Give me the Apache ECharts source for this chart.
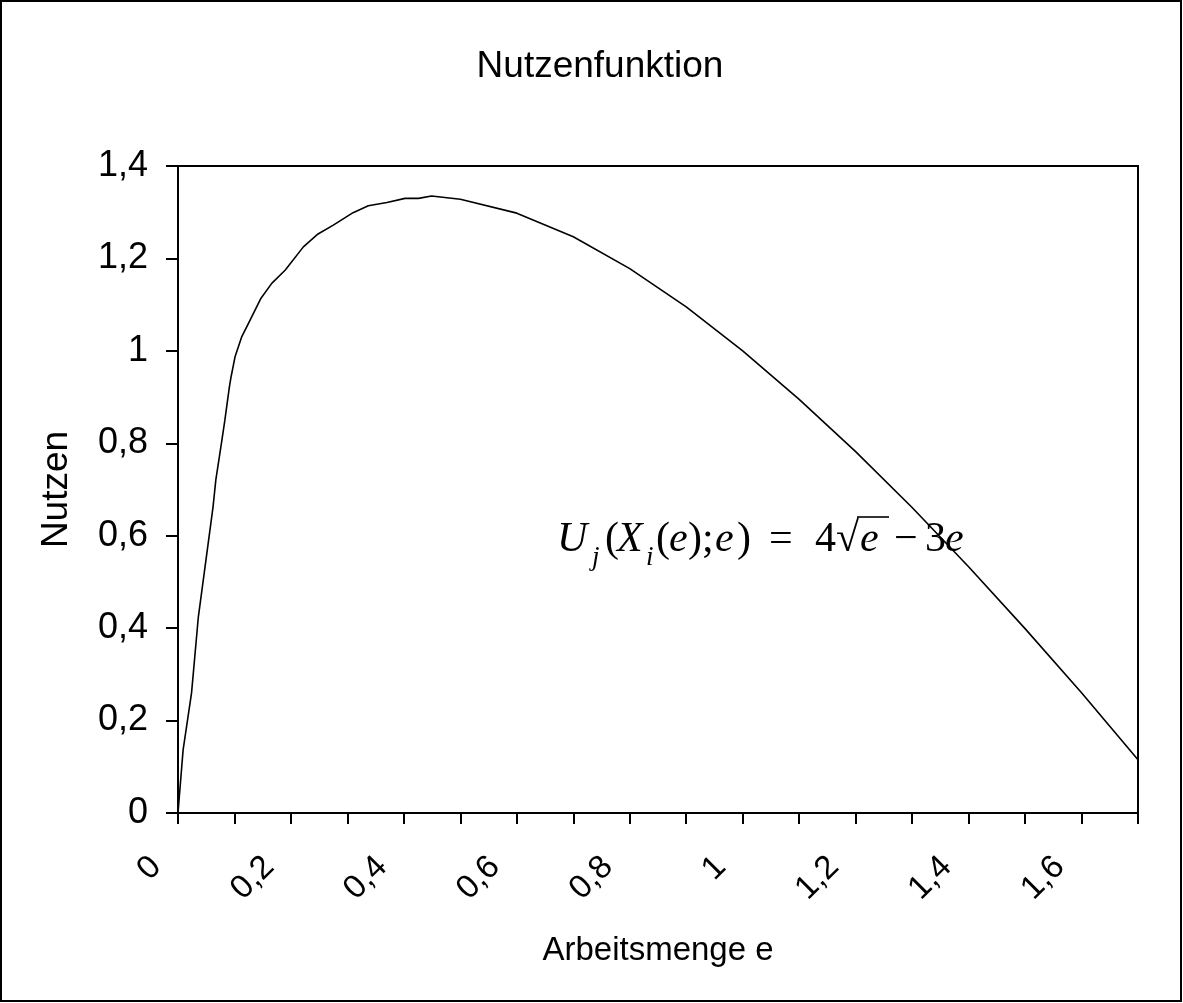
<!DOCTYPE html>
<html>
<head>
<meta charset="utf-8">
<script src="https://cdn.jsdelivr.net/npm/echarts@6/dist/echarts.min.js"></script>
<style>
html,body{margin:0;padding:0;background:#fff;}
#c{width:1183px;height:1003px;}
</style>
</head>
<body>
<div id="c"></div>
<script>
// Data
const eValues = [0, 0.009, 0.024, 0.036, 0.062, 0.067, 0.077, 0.083, 0.091, 0.094, 0.101, 0.113, 0.125, 0.147, 0.166, 0.19, 0.222, 0.248, 0.275, 0.31, 0.337, 0.37, 0.402, 0.426, 0.449, 0.5, 0.6, 0.7, 0.8, 0.9, 1.0, 1.1, 1.2, 1.3, 1.4, 1.5, 1.6, 1.7];
const uValues = [0, 0.136, 0.26, 0.424, 0.662, 0.721, 0.801, 0.85, 0.922, 0.944, 0.987, 1.031, 1.06, 1.114, 1.146, 1.175, 1.225, 1.253, 1.272, 1.299, 1.314, 1.321, 1.33, 1.33, 1.335, 1.328, 1.298, 1.247, 1.178, 1.095, 1.0, 0.895, 0.782, 0.661, 0.533, 0.399, 0.26, 0.115];
const xTickLabels = ['0', '0,2', '0,4', '0,6', '0,8', '1', '1,2', '1,4', '1,6'];
const yTickLabels = ['0', '0,2', '0,4', '0,6', '0,8', '1', '1,2', '1,4'];
const titleText = 'Nutzenfunktion';
const xName = 'Arbeitsmenge e';
const yName = 'Nutzen';

const pts = eValues.map((e, i) => [e, uValues[i]]);
const FONT = '"Liberation Sans", Arial, sans-serif';
const SERIF = '"Liberation Serif", "Times New Roman", serif';

// formula annotation pieces: [text, left x, kind]  (i = italic, n = upright, s = subscript italic)
const formula = [
  ['U', 557, 'i'], ['j', 592, 's'], ['(', 605, 'n'], ['X', 617, 'i'], ['i', 646, 's'],
  ['(', 656, 'n'], ['e', 669, 'i'], [')', 688, 'n'], [';', 702, 'n'], ['e', 715, 'i'], [')', 737, 'n'],
  ['=', 769, 'n'], ['4', 815, 'n'], ['\u221A', 836, 'n'], ['e', 860, 'i'],
  ['\u2212', 894, 'n'], ['3', 925, 'n'], ['e', 945, 'i']
];
const formulaGraphics = formula.map(([t, x, k]) => ({
  type: 'text', x: x, y: k === 's' ? 558 : 540, z: 10, silent: true,
  style: {
    text: t, fill: '#000', fontFamily: SERIF,
    fontStyle: k === 'n' ? 'normal' : 'italic',
    fontSize: k === 's' ? 27 : 42,
    align: 'left', verticalAlign: 'middle'
  }
}));

const chart = echarts.init(document.getElementById('c'), null, {renderer: 'canvas'});
chart.setOption({
  backgroundColor: '#fff',
  animation: false,
  title: {
    text: titleText, left: 595, top: 43, textAlign: 'center',
    textStyle: {fontFamily: FONT, fontSize: 37, fontWeight: 'normal', color: '#000'}
  },
  grid: {left: 178, top: 166, right: 45, bottom: 190, show: true, borderColor: '#000', borderWidth: 2, backgroundColor: 'transparent'},
  xAxis: {
    type: 'value', min: 0, max: 1.7, interval: 0.1,
    name: xName, nameLocation: 'middle', nameGap: 121,
    nameTextStyle: {fontFamily: FONT, fontSize: 33, color: '#000'},
    axisLine: {lineStyle: {color: '#000', width: 2}},
    axisTick: {show: true, length: 11, inside: false, lineStyle: {color: '#000', width: 2}},
    splitLine: {show: false},
    axisLabel: {
      rotate: 45, margin: 27, padding: [0, 31, 0, 0], fontFamily: FONT, fontSize: 33, color: '#000',
      formatter: function (v) {
        const k = Math.round(v * 10);
        if (k % 2 !== 0) return '';
        const idx = k / 2;
        return idx < xTickLabels.length ? xTickLabels[idx] : '';
      }
    }
  },
  yAxis: {
    type: 'value', min: 0, max: 1.4, interval: 0.2,
    name: yName, nameLocation: 'middle', nameGap: 103, nameRotate: 90,
    nameTextStyle: {fontFamily: FONT, fontSize: 37, color: '#000'},
    axisLine: {show: true, lineStyle: {color: '#000', width: 2}},
    axisTick: {show: true, length: 12, inside: false, lineStyle: {color: '#000', width: 2}},
    splitLine: {show: false},
    axisLabel: {
      margin: 30, fontFamily: FONT, fontSize: 36, color: '#000',
      formatter: function (v) {
        const idx = Math.round(v * 5);
        return yTickLabels[idx] || '';
      }
    }
  },
  series: [{
    type: 'line', data: pts, showSymbol: false, smooth: false,
    lineStyle: {color: '#000', width: 1.6}
  }],
  graphic: [
    {type: 'rect', shape: {x: 1, y: 1, width: 1180, height: 1000}, style: {fill: 'none', stroke: '#000', lineWidth: 2}, silent: true},
    {type: 'line', shape: {x1: 857, y1: 517, x2: 889, y2: 517}, style: {stroke: '#000', lineWidth: 1.6}, z: 10, silent: true}
  ].concat(formulaGraphics)
});
</script>
</body>
</html>
